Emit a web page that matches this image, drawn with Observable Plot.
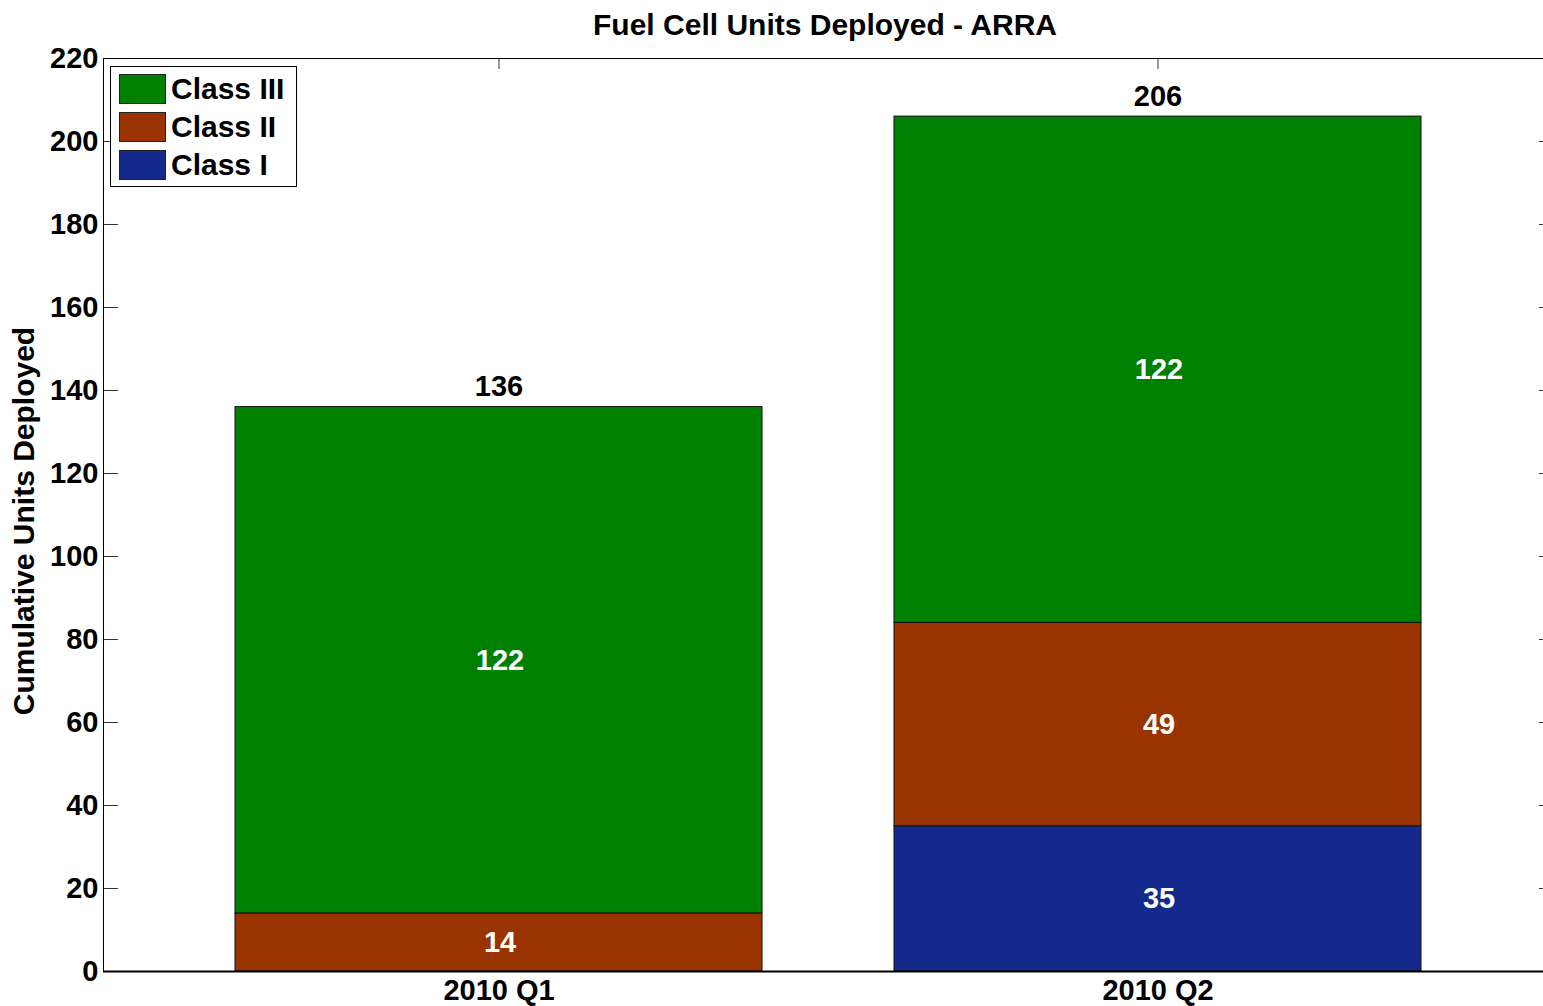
<!DOCTYPE html>
<html>
<head>
<meta charset="utf-8">
<script src="https://cdn.jsdelivr.net/npm/d3@7"></script>
<script src="https://cdn.jsdelivr.net/npm/@observablehq/plot@0.6"></script>
<style>
  html, body { margin: 0; padding: 0; background: white; }
  #wrap { position: relative; width: 1543px; height: 1006px; overflow: hidden; background: white; font-family: "Liberation Sans", Arial, sans-serif; }
  #title { height: 40px; line-height: 50px; margin-left: 101px; width: 1448px; text-align: center; font-weight: bold; font-size: 30px; color: #000; white-space: nowrap; }
  #chart { width: 1543px; overflow: hidden; }
  #legend { position: absolute; left: 110px; top: 66px; width: 187px; height: 121px; border: 1px solid #000; background: #fff; box-sizing: border-box; padding: 3px 0 0 8px; }
  .row { display: flex; align-items: center; height: 38px; }
  .sw { width: 47px; height: 30px; border: 1px solid #222; box-sizing: border-box; margin-right: 5px; }
  .lab { font-weight: bold; font-size: 30px; color: #000; }
</style>
</head>
<body>
<div id="wrap">
  <div id="title">Fuel Cell Units Deployed - ARRA</div>
  <div id="chart"></div>
  <div id="legend"></div>
</div>
<script>
const categories = ["2010 Q1", "2010 Q2"];
const series = ["Class I", "Class II", "Class III"];
const colors = ["#14298C", "#993300", "#008000"];
const classI = [0, 35];
const classII = [14, 49];
const classIII = [122, 122];
const yTicks = [0, 20, 40, 60, 80, 100, 120, 140, 160, 180, 200, 220];

const values = [classI, classII, classIII];
const rows = [];
const totals = [];
categories.forEach((cat, i) => {
  let acc = 0;
  series.forEach((s, j) => {
    const v = values[j][i];
    rows.push({cat, series: s, value: v, y1: acc, y2: acc + v, mid: acc + v / 2});
    acc += v;
  });
  totals.push({cat, total: acc});
});
const segs = rows.filter(d => d.value > 0);

const font = "Liberation Sans, Arial, sans-serif";
const chart = Plot.plot({
  width: 1543,
  height: 966,
  marginLeft: 103,
  marginRight: -10,
  marginTop: 18,
  marginBottom: 35,
  style: {fontFamily: font, fontSize: "29px", fontWeight: "bold", color: "#000", background: "transparent"},
  x: {type: "band", domain: categories, paddingInner: 0.2, paddingOuter: 0.2, label: null},
  y: {domain: [0, 220], label: null},
  color: {domain: series, range: colors},
  marks: [
    Plot.axisY({ticks: yTicks, anchor: "left", tickSize: -15, text: null, stroke: "#333"}),
    Plot.axisY({ticks: yTicks, anchor: "right", tickSize: -15, text: null, stroke: "#333"}),
    Plot.axisX({anchor: "top", tickSize: -10, text: null, stroke: "#333"}),
    Plot.axisY({ticks: yTicks, anchor: "left", tickSize: 0, tickPadding: 5, label: null, fontSize: 29, fontWeight: "bold", fill: "#000"}),
    Plot.axisX({anchor: "bottom", tickSize: 0, tickPadding: 8, label: null, fontSize: 29, fontWeight: "bold", fill: "#000"}),
    Plot.barY(segs, {x: "cat", y1: "y1", y2: "y2", fill: "series", stroke: "#111", strokeWidth: 1}),
    Plot.text(segs, {x: "cat", y: "mid", text: d => String(d.value), dx: 1, fill: "white", fontSize: 29, fontWeight: "bold"}),
    Plot.text(totals, {x: "cat", y: "total", text: d => String(d.total), dy: -20, fill: "black", fontSize: 29, fontWeight: "bold"}),
    Plot.frame({stroke: "#000", strokeWidth: 1}),
    Plot.ruleY([0], {stroke: "#000", strokeWidth: 2}),
    Plot.text(["Cumulative Units Deployed"], {frameAnchor: "left", textAnchor: "middle", rotate: -90, dx: -79, dy: 6, fontSize: 30, fontWeight: "bold", fill: "#000"})
  ]
});
document.getElementById("chart").appendChild(chart);

const legend = document.getElementById("legend");
series.slice().reverse().forEach(s => {
  const i = series.indexOf(s);
  const row = document.createElement("div");
  row.className = "row";
  row.innerHTML = `<div class="sw" style="background:${colors[i]}"></div><div class="lab">${s}</div>`;
  legend.appendChild(row);
});
</script>
</body>
</html>
